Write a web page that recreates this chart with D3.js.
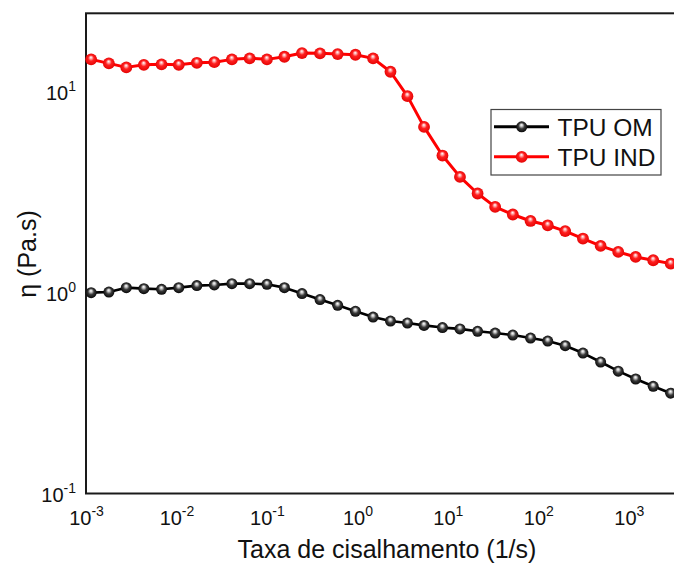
<!DOCTYPE html>
<html><head><meta charset="utf-8">
<script src="https://cdn.jsdelivr.net/npm/d3@7"></script>
<style>
body{margin:0;background:#fff;}
svg{display:block;font-family:"Liberation Sans",Arial,Helvetica,sans-serif;}
</style>
</head><body>
<svg id="c" width="674" height="563"></svg>
<script>
// ---- data ----
const shearRate = [0.00114, 0.00179, 0.00279, 0.00436, 0.00684, 0.0106, 0.0168, 0.0262, 0.0410, 0.0644,
  0.100, 0.156, 0.244, 0.386, 0.605, 0.951, 1.49, 2.32, 3.57, 5.45,
  8.71, 13.6, 21.3, 33.3, 52.2, 82.0, 127, 198, 311, 488,
  764, 1190, 1860, 2900];
const etaOM = [1.002, 1.009, 1.061, 1.049, 1.041, 1.061, 1.086, 1.094, 1.111, 1.111,
  1.102, 1.061, 0.991, 0.925, 0.866, 0.809, 0.757, 0.723, 0.707, 0.688,
  0.671, 0.661, 0.643, 0.630, 0.616, 0.595, 0.575, 0.545, 0.501, 0.452,
  0.407, 0.372, 0.342, 0.316];
const etaIND = [14.56, 13.9, 13.28, 13.68, 13.75, 13.68, 14.0, 14.1, 14.56, 14.73,
  14.56, 15.0, 15.65, 15.6, 15.47, 15.35, 14.73, 12.63, 9.55, 6.71,
  4.83, 3.78, 3.125, 2.68, 2.455, 2.28, 2.17, 2.03, 1.864, 1.712,
  1.598, 1.509, 1.453, 1.398];
const seriesNames = ["TPU OM", "TPU IND"];
const xTickExps = [-3, -2, -1, 0, 1, 2, 3];
const yTickExps = [-1, 0, 1];
const xTitle = "Taxa de cisalhamento (1/s)";
const yTitle = "η (Pa.s)";

(function () {
// ---- layout ----
const svg = d3.select("#c");
const pLeft = 86, pTop = 13.3, pBottom = 493.5, pRight = 719.3;
const x = d3.scaleLog().domain([1e-3, 1e4]).range([pLeft, pRight]);
const y = d3.scaleLog().domain([0.1, 24.7]).range([pBottom, pTop]);

const series = [
  {name: seriesNames[0], values: etaOM, color: "#000", grad: "gBlack", r: 5.5, w: 2.6},
  {name: seriesNames[1], values: etaIND, color: "#ff0000", grad: "gRed", r: 5.9, w: 3}
];

// gradients
const defs = svg.append("defs");
function mkGrad(id, stops) {
  const g = defs.append("radialGradient").attr("id", id)
    .attr("cx", "50%").attr("cy", "50%").attr("r", "55%").attr("fx", "48%").attr("fy", "32%");
  stops.forEach(s => g.append("stop").attr("offset", s[0]).attr("stop-color", s[1]));
}
mkGrad("gRed", [["0%", "#ffffff"], ["18%", "#ffb0b0"], ["45%", "#ff2020"], ["100%", "#e00000"]]);
mkGrad("gBlack", [["0%", "#ffffff"], ["20%", "#c8c8c8"], ["50%", "#3a3a3a"], ["100%", "#000000"]]);

function labelTicks(g) {
  g.selectAll(".tick text").each(function(d) {
    const t = d3.select(this);
    const e = Math.round(Math.log10(d));
    t.text(null);
    t.append("tspan").text("10");
    t.append("tspan").attr("dy", "-9").attr("font-size", "14px").text(String(e));
  });
}
const xAxis = d3.axisBottom(x).tickValues(xTickExps.map(e => Math.pow(10, e))).tickSize(0).tickFormat(d => d);
const gx = svg.append("g").attr("transform", `translate(0,${pBottom})`).call(xAxis);
gx.select(".domain").remove();
gx.selectAll(".tick text").attr("y", 0).attr("dy", 31.5).attr("font-size", "20px")
  .attr("fill", "#111").attr("font-family", "Liberation Sans, Arial, sans-serif").attr("text-anchor", "middle");
labelTicks(gx);

const yAxis = d3.axisLeft(y).tickValues(yTickExps.map(e => Math.pow(10, e))).tickSize(0).tickFormat(d => d);
const gy = svg.append("g").attr("transform", `translate(${pLeft},0)`).call(yAxis);
gy.select(".domain").remove();
gy.selectAll(".tick text").attr("x", -10).attr("dy", 7.5).attr("font-size", "20px")
  .attr("fill", "#111").attr("font-family", "Liberation Sans, Arial, sans-serif").attr("text-anchor", "end");
labelTicks(gy);

// frame
svg.append("rect").attr("x", pLeft).attr("y", pTop).attr("width", pRight - pLeft).attr("height", pBottom - pTop)
  .attr("fill", "none").attr("stroke", "#1a1a1a").attr("stroke-width", 2);

// series
const line = d3.line().x((d, i) => x(shearRate[i])).y(d => y(d));
series.forEach(s => {
  svg.append("path").datum(s.values).attr("d", line).attr("fill", "none")
    .attr("stroke", s.color).attr("stroke-width", s.w).attr("stroke-linejoin", "round");
  svg.append("g").selectAll("circle").data(s.values).join("circle")
    .attr("cx", (d, i) => x(shearRate[i])).attr("cy", d => y(d)).attr("r", s.r)
    .attr("fill", `url(#${s.grad})`);
});

// legend
const lg = svg.append("g");
lg.append("rect").attr("x", 491).attr("y", 109.5).attr("width", 170).attr("height", 65.5)
  .attr("fill", "#fff").attr("stroke", "#444").attr("stroke-width", 1.2);
series.forEach((s, i) => {
  const yy = 126.8 + i * 30;
  lg.append("line").attr("x1", 494).attr("x2", 549).attr("y1", yy).attr("y2", yy)
    .attr("stroke", s.color).attr("stroke-width", 3);
  lg.append("circle").attr("cx", 521.7).attr("cy", yy).attr("r", s.r).attr("fill", `url(#${s.grad})`);
  lg.append("text").attr("x", 557.5).attr("y", yy + 8.8).attr("font-size", "24.5px").attr("fill", "#111").text(s.name);
});

// titles
svg.append("text").attr("x", 387).attr("y", 558).attr("text-anchor", "middle")
  .attr("font-size", "25px").attr("fill", "#111").text(xTitle);
svg.append("text").attr("transform", "translate(36,254) rotate(-90)").attr("text-anchor", "middle")
  .attr("font-size", "25px").attr("fill", "#111").text(yTitle);
})();
</script>
</body></html>
